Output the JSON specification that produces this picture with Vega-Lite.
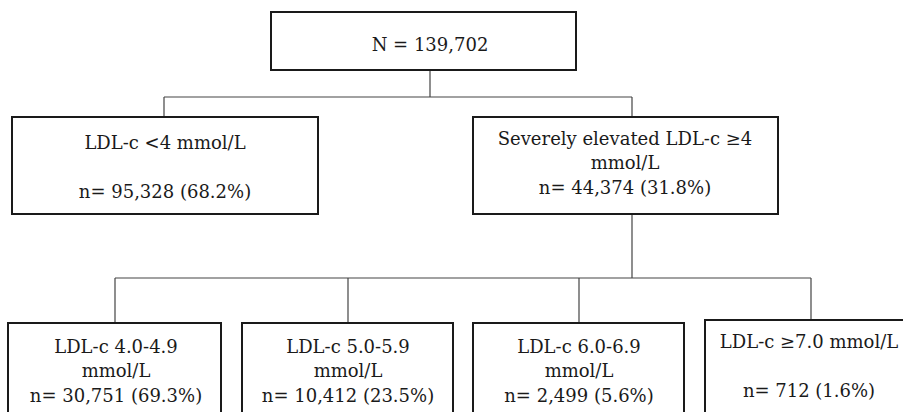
{
  "$schema": "https://vega.github.io/schema/vega-lite/v6.json",
  "width": 903,
  "height": 412,
  "padding": 0,
  "autosize": {"type": "fit", "contains": "padding"},
  "background": "white",
  "config": {"view": {"stroke": null}},
  "datasets": {
    "boxes": [
      {"box": "total", "x1": 271, "x2": 576, "y1": 12, "y2": 70},
      {"box": "low", "x1": 12, "x2": 318, "y1": 117, "y2": 214},
      {"box": "high", "x1": 473, "x2": 778, "y1": 117, "y2": 214},
      {"box": "b1", "x1": 8, "x2": 221, "y1": 323, "y2": 420},
      {"box": "b2", "x1": 242, "x2": 453, "y1": 323, "y2": 420},
      {"box": "b3", "x1": 473, "x2": 684, "y1": 323, "y2": 420},
      {"box": "b4", "x1": 705, "x2": 920, "y1": 320, "y2": 420}
    ],
    "links": [
      {"x1": 430, "x2": 430, "y1": 70, "y2": 97},
      {"x1": 164, "x2": 632, "y1": 97, "y2": 97},
      {"x1": 164, "x2": 164, "y1": 97, "y2": 117},
      {"x1": 632, "x2": 632, "y1": 97, "y2": 117},
      {"x1": 632, "x2": 632, "y1": 214, "y2": 278},
      {"x1": 115, "x2": 811, "y1": 278, "y2": 278},
      {"x1": 115, "x2": 115, "y1": 278, "y2": 323},
      {"x1": 348, "x2": 348, "y1": 278, "y2": 323},
      {"x1": 579, "x2": 579, "y1": 278, "y2": 323},
      {"x1": 811, "x2": 811, "y1": 278, "y2": 320}
    ],
    "labels": [
      {"x": 430, "y": 51, "label": "N = 139,702"},
      {"x": 165, "y": 149, "label": "LDL-c <4 mmol/L"},
      {"x": 165, "y": 198, "label": "n= 95,328 (68.2%)"},
      {"x": 625, "y": 145, "label": "Severely elevated LDL-c ≥4"},
      {"x": 625, "y": 169, "label": "mmol/L"},
      {"x": 625, "y": 194, "label": "n= 44,374 (31.8%)"},
      {"x": 116, "y": 353, "label": "LDL-c 4.0-4.9"},
      {"x": 116, "y": 377, "label": "mmol/L"},
      {"x": 116, "y": 402, "label": "n= 30,751 (69.3%)"},
      {"x": 348, "y": 353, "label": "LDL-c 5.0-5.9"},
      {"x": 348, "y": 377, "label": "mmol/L"},
      {"x": 348, "y": 402, "label": "n= 10,412 (23.5%)"},
      {"x": 579, "y": 353, "label": "LDL-c 6.0-6.9"},
      {"x": 579, "y": 377, "label": "mmol/L"},
      {"x": 579, "y": 402, "label": "n= 2,499 (5.6%)"},
      {"x": 809, "y": 348, "label": "LDL-c ≥7.0 mmol/L"},
      {"x": 809, "y": 397, "label": "n= 712 (1.6%)"}
    ]
  },
  "layer": [
    {
      "data": {"name": "links"},
      "mark": {"type": "rule", "stroke": "#444444", "strokeWidth": 1.2, "clip": true},
      "encoding": {
        "x": {"field": "x1", "type": "quantitative", "scale": {"domain": [0, 903]}, "axis": null},
        "x2": {"field": "x2"},
        "y": {"field": "y1", "type": "quantitative", "scale": {"domain": [0, 412], "reverse": true}, "axis": null},
        "y2": {"field": "y2"}
      }
    },
    {
      "data": {"name": "boxes"},
      "mark": {"type": "rect", "fill": "white", "stroke": "#1a1a1a", "strokeWidth": 2, "clip": true},
      "encoding": {
        "x": {"field": "x1", "type": "quantitative", "scale": {"domain": [0, 903]}, "axis": null},
        "x2": {"field": "x2"},
        "y": {"field": "y1", "type": "quantitative", "scale": {"domain": [0, 412], "reverse": true}, "axis": null},
        "y2": {"field": "y2"}
      }
    },
    {
      "data": {"name": "labels"},
      "mark": {"type": "text", "font": "DejaVu Serif", "fontSize": 18, "align": "center", "baseline": "alphabetic", "color": "#1a1a1a", "clip": true},
      "encoding": {
        "x": {"field": "x", "type": "quantitative", "scale": {"domain": [0, 903]}, "axis": null},
        "y": {"field": "y", "type": "quantitative", "scale": {"domain": [0, 412], "reverse": true}, "axis": null},
        "text": {"field": "label"}
      }
    }
  ]
}
